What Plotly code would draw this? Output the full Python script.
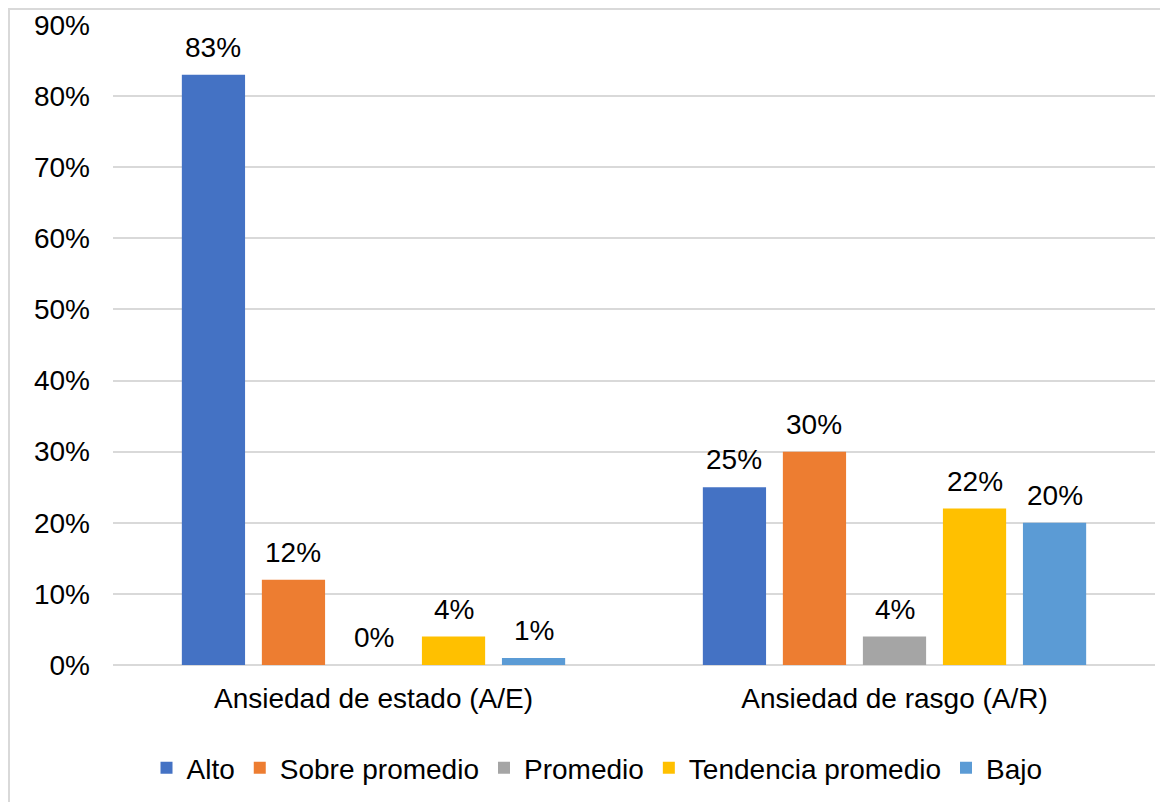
import plotly.graph_objects as go

categories = ["Ansiedad de estado (A/E)", "Ansiedad de rasgo (A/R)"]
series_names = ["Alto", "Sobre promedio", "Promedio", "Tendencia promedio", "Bajo"]
alto = [0.83, 0.25]
sobre_promedio = [0.12, 0.30]
promedio = [0.00, 0.04]
tendencia_promedio = [0.04, 0.22]
bajo = [0.01, 0.20]
colors = ["#4472C4", "#ED7D31", "#A5A5A5", "#FFC000", "#5B9BD5"]
y_ticks = [0, 0.1, 0.2, 0.3, 0.4, 0.5, 0.6, 0.7, 0.8, 0.9]

values = [alto, sobre_promedio, promedio, tendencia_promedio, bajo]

FONT = "Liberation Sans, Arial, sans-serif"
FS = 28
BARGAP = 0.232
n = len(series_names)

fig = go.Figure()
annotations = []
for i, (name, vals, col) in enumerate(zip(series_names, values, colors)):
    fig.add_trace(go.Bar(
        name=name, x=categories, y=vals,
        marker=dict(color=col, line=dict(width=0)),
    ))
    slot = (1 - BARGAP) / n
    for ci, v in enumerate(vals):
        annotations.append(dict(
            x=ci - (1 - BARGAP) / 2 + slot * (i + 0.5), y=v, xref="x", yref="y",
            text=f"{round(v*100)}%", showarrow=False, yanchor="bottom", yshift=10,
            font=dict(family=FONT, size=FS, color="black")))

fig.update_layout(
    width=1168, height=802,
    paper_bgcolor="white", plot_bgcolor="white",
    margin=dict(l=105, r=21, t=17, b=145, autoexpand=False),
    barmode="group", bargap=BARGAP, bargroupgap=0.21,
    font=dict(family=FONT, size=FS, color="black"),
    showlegend=True,
    legend=dict(orientation="h", x=0.4645, xanchor="center", y=-0.161, yanchor="middle",
                font=dict(family=FONT, size=FS, color="black"),
                traceorder="normal", itemwidth=30),
    yaxis=dict(range=[0, 0.9], tickvals=y_ticks, tickformat=".0%", automargin=False,
               showgrid=True, gridcolor="#D9D9D9", gridwidth=1.5,
               zeroline=True, zerolinecolor="#D9D9D9", zerolinewidth=1.5,
               showline=False, ticks="", ticklabelstandoff=22,
               tickfont=dict(family=FONT, size=FS, color="black")),
    xaxis=dict(showgrid=False, showline=False, ticks="", ticklabelstandoff=14, automargin=False,
               tickfont=dict(family=FONT, size=FS, color="black")),
    annotations=annotations,
    shapes=[dict(type="rect", xref="paper", yref="paper",
                 x0=-0.0998, x1=1.1, y0=-0.3, y1=1.025,
                 line=dict(color="#D9D9D9", width=2), fillcolor="rgba(0,0,0,0)", layer="below")],
)

fig.write_html("out.html")
